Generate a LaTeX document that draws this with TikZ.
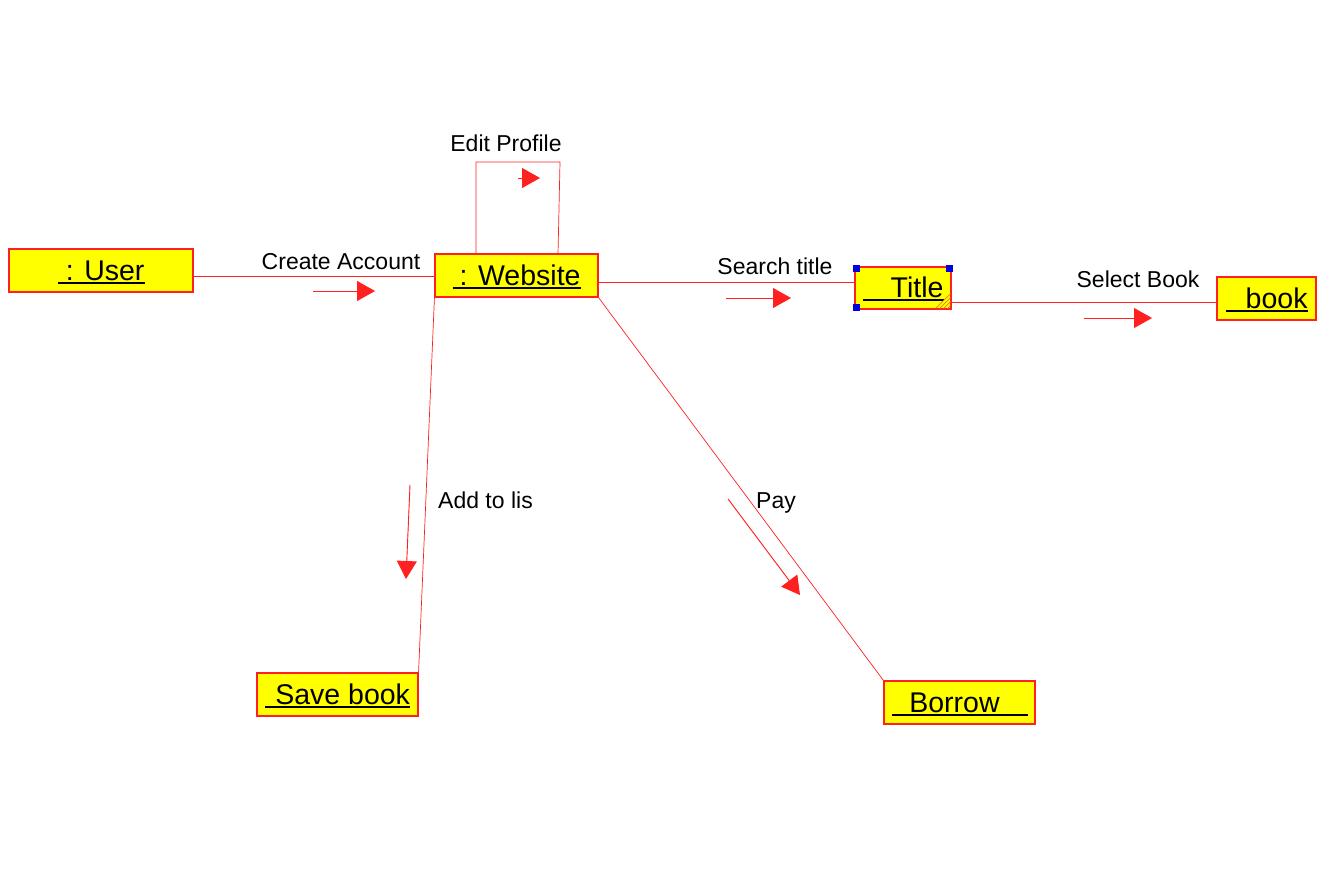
\documentclass[tikz,border=0pt]{standalone}
\usepackage{fontspec}
\setmainfont{Liberation Sans}
\usetikzlibrary{arrows.meta,calc}
\definecolor{objyellow}{HTML}{FFFF00}
\definecolor{objred}{HTML}{FF2020}
\definecolor{handleblue}{HTML}{0000E0}
\definecolor{gripor}{HTML}{E08020}
\newcommand\objtext[3]{\makebox[#1][#2]{#3}\llap{\rule[-3.5pt]{#1}{1.8pt}}}
\begin{document}
\begin{tikzpicture}[x=1pt,y=-1pt,
  obj/.style={draw=objred,line width=1.1pt,fill=objyellow,inner sep=0pt,
    text height=31pt,text depth=12pt,font=\fontsize{28.5}{28.5}\selectfont},
  link/.style={draw=objred,line width=0.7pt},
  msg/.style={draw=objred,line width=0.9pt,-{Triangle[length=18pt,width=20pt]},fill=objred},
  lbl/.style={inner sep=0pt,font=\fontsize{23}{23}\selectfont}]
\useasboundingbox (0,0) rectangle (1332,891);
% objects
\node[obj,minimum width=184pt] (user) at (101,270.5) {\objtext{87pt}{r}{: User}};
\node[obj,minimum width=163pt] (web) at (516.5,275.5) {\objtext{128pt}{r}{: Website}};
\node[obj,minimum width=96pt,text height=30pt] (title) at (903,288) {\objtext{81pt}{r}{Title}};
\node[obj,minimum width=99pt] (book) at (1266.5,298.5) {\objtext{82pt}{r}{book}};
\node[obj,minimum width=161pt] (save) at (337.5,694.5) {\objtext{145pt}{r}{Save book}};
\node[obj,minimum width=151pt] (borrow) at (959.5,702.5) {\objtext{136pt}{c}{Borrow\hspace{10pt}}};
% selection handles on Title
\fill[handleblue] ($(title.north west)+(-1,-1)$) rectangle +(7,7);
\fill[handleblue] ($(title.north east)+(-6,-1)$) rectangle +(7,7);
\fill[handleblue] ($(title.south west)+(-1,-6)$) rectangle +(7,7);
\foreach \d in {4,8,12,16}{\draw[gripor,line width=0.8pt] ($(title.south east)+(-\d,-1)$) -- ($(title.south east)+(-1,-\d)$);}
% links
\coordinate (u1) at (user.east |- 0,276);
\coordinate (w1) at (web.west |- 0,276);
\draw[link] (u1) -- (w1);
\coordinate (lp1) at (476,254);
\coordinate (lp2) at (476,162);
\coordinate (lp3) at (560,162);
\coordinate (lp4) at (558,254);
\draw[link] (lp1) -- (lp2) -- (lp3) -- (lp4);
\coordinate (w2) at (web.east |- 0,282);
\coordinate (t1) at (title.west |- 0,282);
\draw[link] (w2) -- (t1);
\coordinate (t2) at (title.east |- 0,302);
\coordinate (b1) at (book.west |- 0,302);
\draw[link] (t2) -- (b1);
\draw[link] (web.south west) -- (save.north east);
\draw[link] (web.south east) -- (borrow.north west);
% labels
\node[lbl] (l1) at (341,262) {Create Account};
\node[lbl] (l2) at (506,143) {Edit Profile};
\node[lbl] (l3) at (775,266) {Search title};
\node[lbl] (l4) at (1138,279) {Select Book};
\node[lbl,anchor=west] (l5) at (438,500) {Add to lis};
\node[lbl] (l6) at (776,503) {Pay};
% message arrows
\coordinate (a1s) at (313,291); \coordinate (a1e) at (375,291);
\draw[msg] (a1s) -- (a1e);
\coordinate (a2s) at (518,178); \coordinate (a2e) at (540,178);
\draw[msg] (a2s) -- (a2e);
\coordinate (a3s) at (726,298); \coordinate (a3e) at (791,298);
\draw[msg] (a3s) -- (a3e);
\coordinate (a4s) at (1084,318); \coordinate (a4e) at (1152,318);
\draw[msg] (a4s) -- (a4e);
\coordinate (a5s) at (410,485); \coordinate (a5e) at (406,579);
\draw[msg] (a5s) -- (a5e);
\coordinate (a6s) at (728,499); \coordinate (a6e) at (800,595);
\draw[msg] (a6s) -- (a6e);
\end{tikzpicture}
\end{document}
